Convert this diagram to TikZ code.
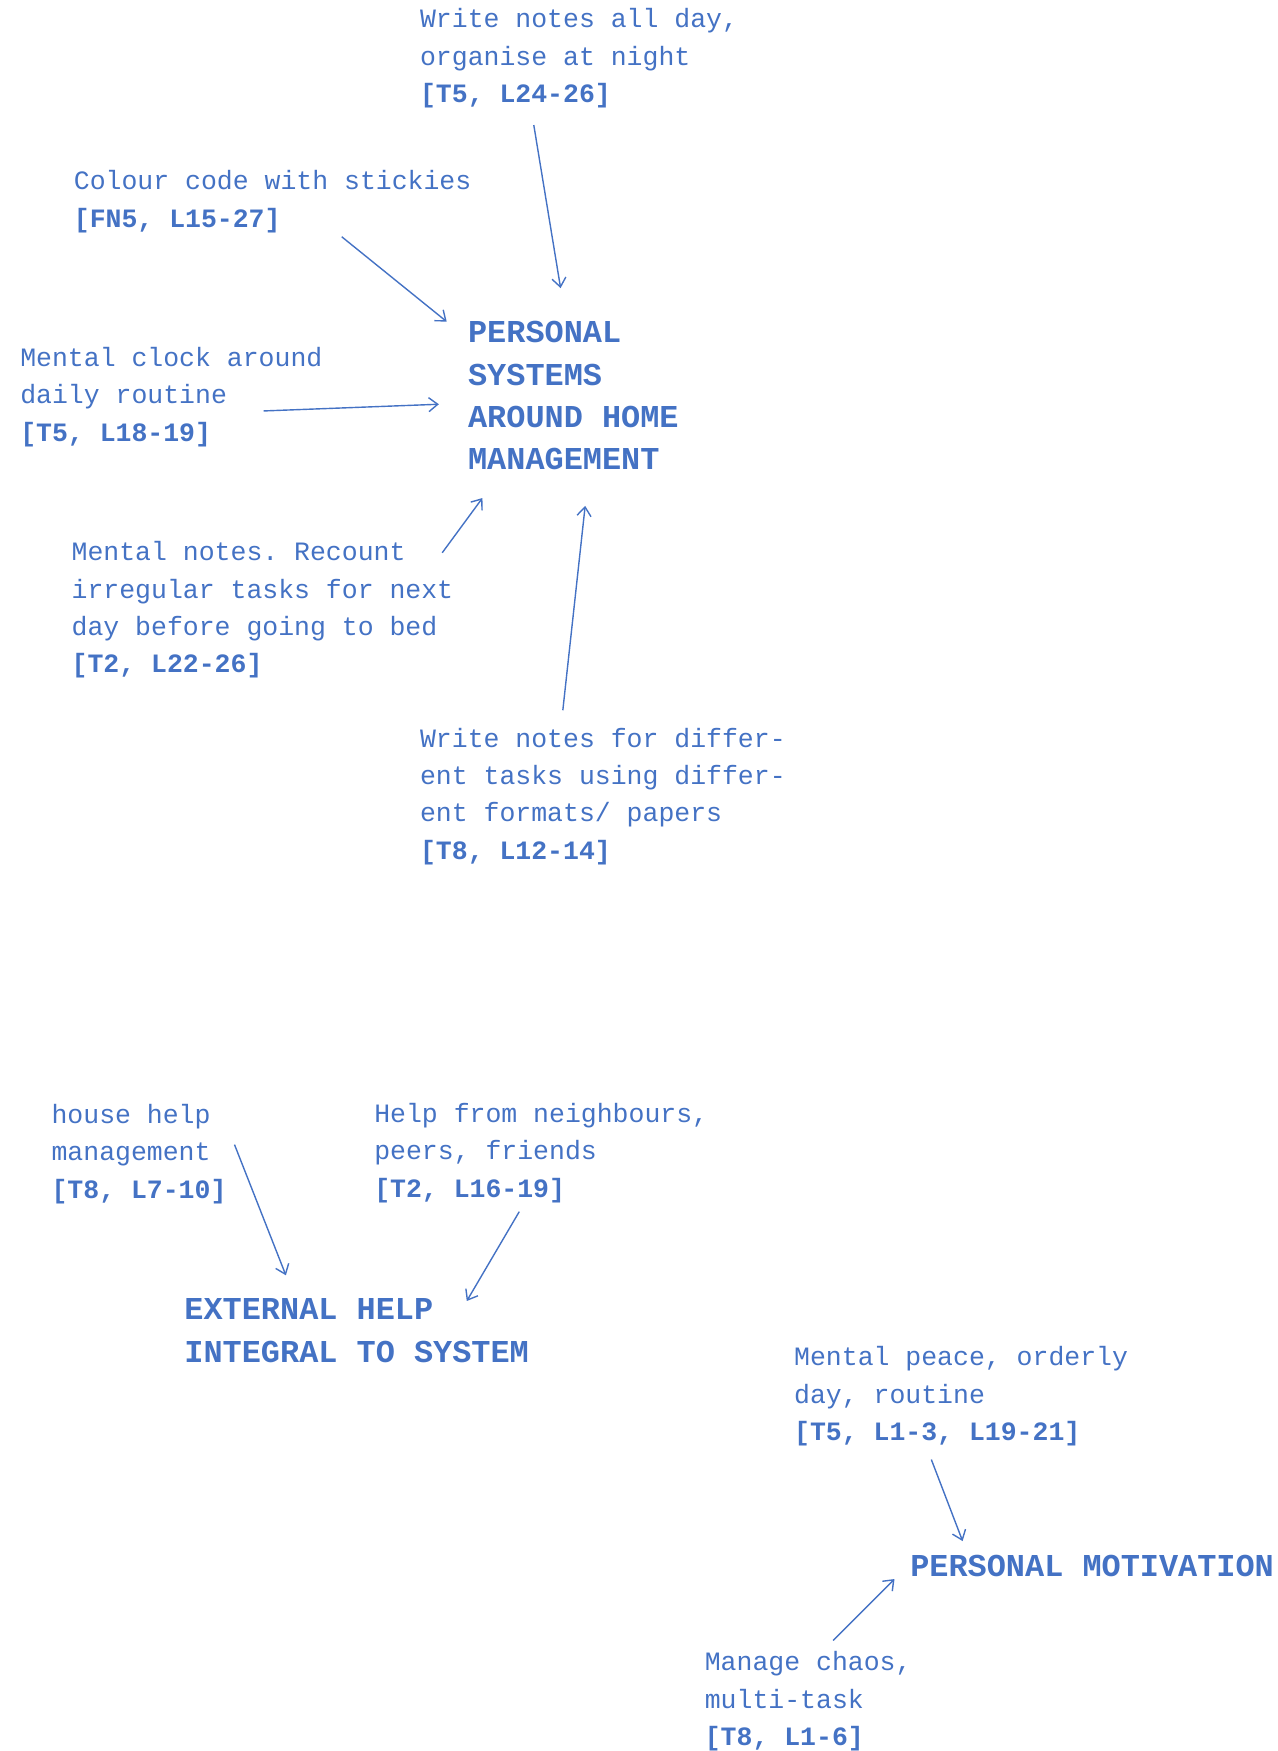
\documentclass[tikz,border=0pt]{standalone}
\usepackage{fontspec}
\setmainfont{Liberation Mono}
\frenchspacing
\usetikzlibrary{arrows.meta}
\definecolor{ink}{HTML}{4472C4}
\tikzset{
  lbl/.style={anchor=north west, inner sep=0pt, align=left, text=ink,
    font=\fontsize{26.5pt}{37.4pt}\selectfont\frenchspacing, execute at begin node=\strut},
  head/.style={anchor=north west, inner sep=0pt, align=left, text=ink,
    font=\fontsize{31.9pt}{42.4pt}\selectfont\bfseries, execute at begin node=\strut},
  arr/.style={draw=ink, line width=1.4pt, -{Straight Barb[length=9pt,width=14pt]}}
}
\begin{document}
\begin{tikzpicture}[x=1.1171pt, y=-1.1171pt]
\useasboundingbox (0,0) rectangle (1144,1568);
% labels
\node[lbl] (n1) at (376,7.7) {Write notes all day,\\organise at night\\\textbf{[T5, L24-26]}};
\node[lbl] (n2) at (66,152.7) {Colour code with stickies\\\textbf{[FN5, L15-27]}};
\node[lbl] (n3) at (18,310.7) {Mental clock around\\daily routine\\\textbf{[T5, L18-19]}};
\node[head] (psys) at (419,287.7) {PERSONAL\\SYSTEMS\\AROUND HOME\\MANAGEMENT};
\node[lbl] (n4) at (64,484.7) {Mental notes. Recount\\irregular tasks for next\\day before going to bed\\\textbf{[T2, L22-26]}};
\node[lbl] (n5) at (376,651.7) {Write notes for differ-\\ent tasks using differ-\\ent formats/ papers\\\textbf{[T8, L12-14]}};
\node[lbl] (n6) at (46,988.7) {house help\\management\\\textbf{[T8, L7-10]}};
\node[lbl] (n7) at (335,987.7) {Help from neighbours,\\peers, friends\\\textbf{[T2, L16-19]}};
\node[head] (ext) at (165,1162.7) {EXTERNAL HELP\\INTEGRAL TO SYSTEM};
\node[lbl] (n8) at (711,1205.7) {Mental peace, orderly\\day, routine\\\textbf{[T5, L1-3, L19-21]}};
\node[head] (mot) at (815,1384.7) {PERSONAL MOTIVATION};
\node[lbl] (n9) at (631,1478.7) {Manage chaos,\\multi-task\\\textbf{[T8, L1-6]}};
% connector ends
\coordinate (a1) at (478,112); \coordinate (a2) at (502,258);
\coordinate (b1) at (306,212); \coordinate (b2) at (400,288);
\coordinate (c1) at (236,368); \coordinate (c2) at (393,362);
\coordinate (d1) at (396,495); \coordinate (d2) at (432,446);
\coordinate (e1) at (504,636); \coordinate (e2) at (524,453);
\coordinate (f1) at (210,1025); \coordinate (f2) at (256,1142);
\coordinate (g1) at (465,1085); \coordinate (g2) at (418,1165);
\coordinate (h1) at (834,1307); \coordinate (h2) at (862,1380);
\coordinate (i1) at (746,1469); \coordinate (i2) at (801,1414);
\draw[arr] (a1) -- (a2);
\draw[arr] (b1) -- (b2);
\draw[arr] (c1) -- (c2);
\draw[arr] (d1) -- (d2);
\draw[arr] (e1) -- (e2);
\draw[arr] (f1) -- (f2);
\draw[arr] (g1) -- (g2);
\draw[arr] (h1) -- (h2);
\draw[arr] (i1) -- (i2);
\end{tikzpicture}
\end{document}
